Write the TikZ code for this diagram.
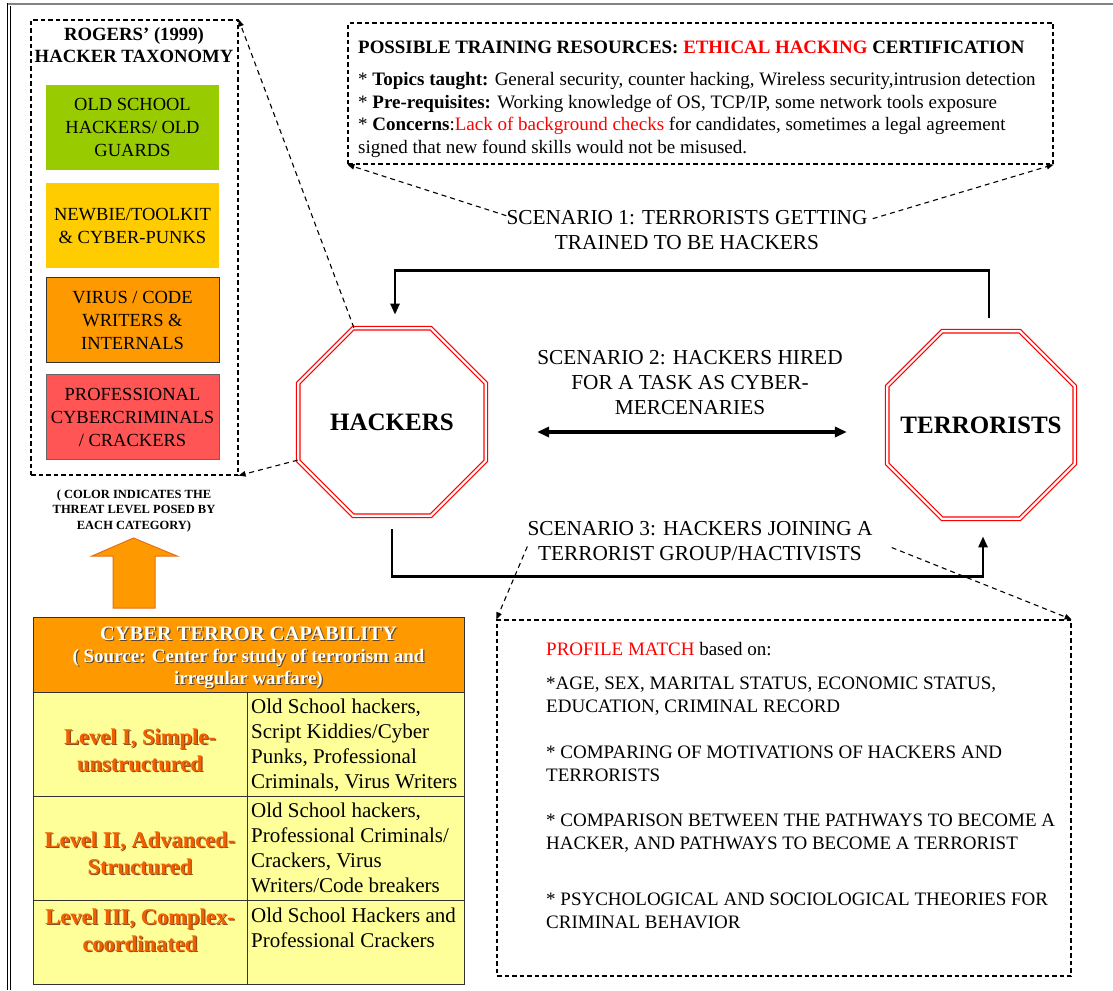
\documentclass[tikz,border=0pt]{standalone}
\usepackage{fontspec}
\setmainfont{Liberation Serif}
\usetikzlibrary{arrows.meta,shapes.geometric}

\definecolor{oldguard}{RGB}{153,204,0}
\definecolor{newbie}{RGB}{255,204,0}
\definecolor{virus}{RGB}{255,153,0}
\definecolor{pro}{RGB}{255,85,85}
\definecolor{cellfill}{RGB}{255,255,153}
\definecolor{headfill}{RGB}{255,153,0}
\definecolor{levelink}{RGB}{240,96,0}
\definecolor{levelshade}{RGB}{150,75,25}
\definecolor{headshade}{RGB}{90,70,50}
\definecolor{blockedge}{RGB}{230,110,20}
\definecolor{framegray}{RGB}{130,130,130}
\definecolor{alert}{RGB}{255,0,0}

\newcommand\fsz[2]{\fontsize{#1}{#2}\selectfont}
% text with a small drop shadow below and to the right
\newcommand\embossed[3]{\rlap{\kern1.2pt\raisebox{-1.2pt}{\color{#2}#3}}{\color{#1}#3}}

\begin{document}
% multi-line text nodes are placed by the baseline of their last line
\begin{tikzpicture}[x=1pt,y=-1pt,inner sep=0pt,
  >={Triangle[length=11pt,width=9pt]},
  dashbox/.style={draw, line width=1.2pt, dash pattern=on 4.5pt off 3pt},
  dashlink/.style={line width=1.1pt, dash pattern=on 5pt off 4pt, -{Triangle[length=7pt,width=5.5pt]}},
  flow/.style={line width=2.6pt},
  catbox/.style={rectangle, minimum width=173pt, minimum height=85pt,
    align=center, font=\fsz{18.5}{23}},
  cell/.style={rectangle, draw=black!80, line width=1.2pt, anchor=north west},
  octa/.style={regular polygon, regular polygon sides=8, minimum size=203pt,
    draw=red, double=white, double distance=2.2pt, line width=1.2pt, font=\bfseries\fsz{25}{30}},
  scen/.style={anchor=base, align=center, font=\fsz{21.3}{25}},
  prof/.style={anchor=base west, align=left, font=\fsz{19}{22.5}}
]
\useasboundingbox (0,0) rectangle (1113,990);
\fill[white] (0,0) rectangle (1113,990);

% page frame
\draw[framegray, line width=2.4pt] (7,4) -- (1113,4);
\draw[line width=0.9pt] (7,3) -- (7,990);
\draw[line width=0.9pt] (10.5,6) -- (10.5,990);

% taxonomy panel
\node[dashbox, minimum width=207pt, minimum height=455pt] (tax) at (134.5,247.5) {};
\node[anchor=base, align=center, font=\bfseries\fsz{18.7}{22}] (taxtitle) at (134,63)
  {ROGERS' (1999)\\HACKER TAXONOMY};
\node[catbox, fill=oldguard] (oldg) at (132.5,127.5) {OLD SCHOOL\\HACKERS/ OLD\\GUARDS};
\node[catbox, fill=newbie] (newb) at (132.5,225.5) {NEWBIE/TOOLKIT\\\& CYBER-PUNKS};
\node[catbox, fill=virus, draw=black!80, line width=0.8pt] (virw) at (132.5,320) {VIRUS / CODE\\WRITERS \&\\INTERNALS};
\node[catbox, fill=pro, draw=black!60, line width=0.8pt] (proc) at (132.5,417) {PROFESSIONAL\\CYBERCRIMINALS\\/ CRACKERS};

\node[anchor=base, align=center, font=\bfseries\fsz{12.5}{15.5}] (legend) at (134,529)
  {( COLOR INDICATES THE\\THREAT LEVEL POSED BY\\EACH CATEGORY)};

% block arrow from the capability table up to the taxonomy
\filldraw[fill=headfill, draw=blockedge, line width=1pt]
  (113,608) -- (113,556) -- (92,556) -- (133.5,538) -- (177,556) -- (155,556) -- (155,608) -- cycle;

% capability table
\node[cell, fill=headfill, minimum width=431pt, minimum height=75pt] (head) at (33,617) {};
\node[cell, fill=cellfill, minimum width=214pt, minimum height=104pt] (l1) at (33,692) {};
\node[cell, fill=cellfill, minimum width=217pt, minimum height=104pt] (r1) at (247,692) {};
\node[cell, fill=cellfill, minimum width=214pt, minimum height=104pt] (l2) at (33,796) {};
\node[cell, fill=cellfill, minimum width=217pt, minimum height=104pt] (r2) at (247,796) {};
\node[cell, fill=cellfill, minimum width=214pt, minimum height=84pt] (l3) at (33,900) {};
\node[cell, fill=cellfill, minimum width=217pt, minimum height=84pt] (r3) at (247,900) {};

\node[anchor=base, align=center, font=\bfseries\fsz{19}{22}] (headtxt) at (248.5,684)
  {{\fsz{20.5}{24}\embossed{white}{headshade}{CYBER TERROR CAPABILITY}}\\
   \embossed{white}{headshade}{( Source: Center for study of terrorism and}\\
   \embossed{white}{headshade}{irregular warfare)}};

\node[anchor=base, align=center, font=\bfseries\fsz{22.5}{27}] (lv1) at (140,771)
  {\embossed{levelink}{levelshade}{Level I, Simple-}\\\embossed{levelink}{levelshade}{unstructured}};
\node[anchor=base, align=center, font=\bfseries\fsz{22.5}{27}] (lv2) at (140,874)
  {\embossed{levelink}{levelshade}{Level II, Advanced-}\\\embossed{levelink}{levelshade}{Structured}};
\node[anchor=base, align=center, font=\bfseries\fsz{22.5}{27}] (lv3) at (140,951)
  {\embossed{levelink}{levelshade}{Level III, Complex-}\\\embossed{levelink}{levelshade}{coordinated}};

\node[anchor=base west, align=left, font=\fsz{21}{25}] (gr1) at (251,788)
  {Old School hackers,\\Script Kiddies/Cyber\\Punks, Professional\\Criminals, Virus Writers};
\node[anchor=base west, align=left, font=\fsz{21}{25}] (gr2) at (251,892)
  {Old School hackers,\\Professional Criminals/\\Crackers, Virus\\Writers/Code breakers};
\node[anchor=base west, align=left, font=\fsz{21}{25}] (gr3) at (251,947)
  {Old School Hackers and\\Professional Crackers};

% training resources panel
\node[dashbox, minimum width=705pt, minimum height=141pt] (train) at (700.5,93.5) {};
\node[anchor=base west, font=\bfseries\fsz{18.9}{22}] (traintitle) at (358,53)
  {POSSIBLE TRAINING RESOURCES: \textcolor{alert}{ETHICAL HACKING} CERTIFICATION};
\node[anchor=base west, align=left, font=\fsz{19}{22.4}] (traintxt) at (358,153)
  {* \textbf{Topics taught:} General security, counter hacking, Wireless security,intrusion detection\\
   * \textbf{Pre-requisites:} Working knowledge of OS, TCP/IP, some network tools exposure\\
   * \textbf{Concerns}:\textcolor{alert}{Lack of background checks} for candidates, sometimes a legal agreement\\
   signed that new found skills would not be misused.};

% scenarios
\node[scen] (s1) at (687,249) {SCENARIO 1: TERRORISTS GETTING\\TRAINED TO BE HACKERS};
\node[scen] (s2) at (690,414) {SCENARIO 2: HACKERS HIRED\\FOR A TASK AS CYBER-\\MERCENARIES};
\node[scen] (s3) at (700,560) {SCENARIO 3: HACKERS JOINING A\\TERRORIST GROUP/HACTIVISTS};

% actors
\node[octa] (hack) at (392,422) {\makebox[0pt]{HACKERS}};
\node[octa] (terr) at (981,425) {\makebox[0pt]{TERRORISTS}};

\draw[flow,->] ([xshift=8pt,yshift=13pt]terr.north) -- ++(0,-47) -| ([xshift=3pt,yshift=13pt]hack.north);
\draw[line width=3.2pt,{Triangle[length=12pt,width=10pt]}-{Triangle[length=12pt,width=10pt]},
  shorten <=50.7pt,shorten >=39.7pt] ([yshift=-10pt]hack.east) -- ([yshift=-7pt]terr.west);
\draw[flow,->] ([yshift=-13pt]hack.south) -- ++(0,47) -| ([xshift=2pt,yshift=-17pt]terr.south);

% profile panel
\node[dashbox, minimum width=574pt, minimum height=356pt] (prof) at (784,798) {};
\node[prof] (pm) at (546,655) {\textcolor{alert}{PROFILE MATCH} based on:};
\node[prof] (pm1) at (546,712) {*AGE, SEX, MARITAL STATUS, ECONOMIC STATUS,\\EDUCATION, CRIMINAL RECORD};
\node[prof] (pm2) at (546,781) {* COMPARING OF MOTIVATIONS OF HACKERS AND\\TERRORISTS};
\node[prof] (pm3) at (546,849) {* COMPARISON BETWEEN THE PATHWAYS TO BECOME A\\HACKER, AND PATHWAYS TO BECOME A TERRORIST};
\node[prof] (pm4) at (546,928) {* PSYCHOLOGICAL AND SOCIOLOGICAL THEORIES FOR\\CRIMINAL BEHAVIOR};

% dashed call-outs
\draw[dashlink] (hack.112.5) -- (tax.north east);
\draw[dashlink] (hack.202.5) -- (tax.south east);
\draw[dashlink] ([yshift=-6pt]s1.north west) -- (train.south west);
\draw[dashlink] ([xshift=5pt,yshift=-9pt]s1.north east) -- (train.south east);
\draw[dashlink] ([yshift=14pt]s3.south west) -- (prof.north west);
\draw[dashlink] ([xshift=19pt,yshift=13pt]s3.south east) -- (prof.north east);
\end{tikzpicture}
\end{document}
